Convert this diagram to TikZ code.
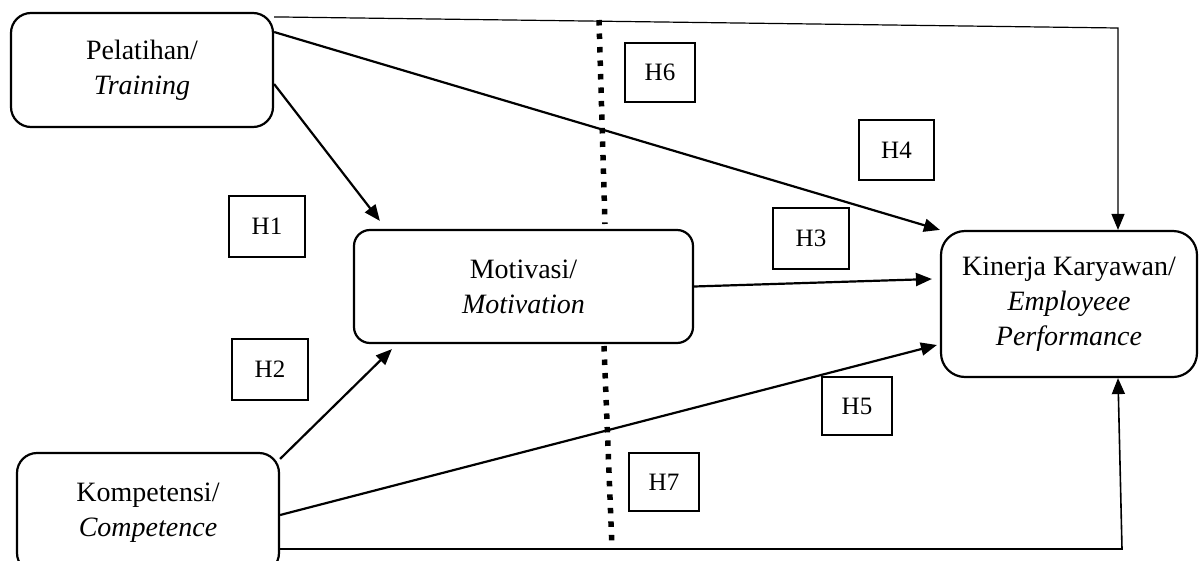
\documentclass[tikz,border=0pt]{standalone}
\usepackage{fontspec}
\setmainfont{Liberation Serif}
\usetikzlibrary{arrows.meta,calc}
\begin{document}
\begin{tikzpicture}[x=1pt,y=-1pt,
  var/.style={draw, line width=2.2pt, rounded corners=20pt, align=center, inner sep=0pt,
    font=\fontsize{28}{35}\selectfont},
  hyp/.style={draw, line width=2pt, inner sep=0pt, font=\fontsize{25}{30}\selectfont},
  link/.style={line width=2.2pt, -{Triangle[length=16pt,width=13pt]}},
  sepline/.style={line width=5.5pt, dash pattern=on 5.5pt off 8pt}]
\useasboundingbox (0,0) rectangle (1200,560);

% variable boxes
\node[var, minimum width=262pt, minimum height=114pt] (pel) at (142,70) {Pelatihan/\\\textit{Training}};
\node[var, minimum width=339pt, minimum height=113pt, rounded corners=16pt] (mot) at (523.5,286.5) {Motivasi/\\\textit{Motivation}};
\node[var, minimum width=256pt, minimum height=146pt, rounded corners=24pt] (kin) at (1069,304) {Kinerja Karyawan/\\\textit{Employeee}\\\textit{Performance}};
\node[var, minimum width=262pt, minimum height=120pt] (kom) at (148,513) {Kompetensi/\\\textit{Competence}};

% hypothesis labels
\node[hyp, minimum width=76pt, minimum height=61pt] (h1) at (267,226) {H1};
\node[hyp, minimum width=76pt, minimum height=61pt] (h2) at (270,369.5) {H2};
\node[hyp, minimum width=76pt, minimum height=61pt] (h3) at (811,238.5) {H3};
\node[hyp, minimum width=75pt, minimum height=60pt] (h4) at (896.5,150) {H4};
\node[hyp, minimum width=70pt, minimum height=58pt] (h5) at (857,406) {H5};
\node[hyp, minimum width=70pt, minimum height=59pt] (h6) at (660,72.5) {H6};
\node[hyp, minimum width=70pt, minimum height=58pt] (h7) at (664,482) {H7};

% dotted separator
\draw[sepline] (599,20) -- (605,224);
\draw[sepline] (604,346) -- (612,548);

% connectors
\coordinate (tr) at (1118,28);
\draw[line width=1.2pt, -{Triangle[length=16pt,width=13pt]}]
  ([yshift=-5pt]pel.north east) -- (tr) -- (tr |- kin.north);
\draw[link] ([yshift=38pt]pel.east) -- (kin.north west);
\draw[link] ([yshift=-14pt]pel.east) -- ([xshift=27pt,yshift=8pt]mot.north west);
\draw[link] (mot.east) -- ([xshift=-8pt,yshift=25pt]kin.west);
\draw[link] ([yshift=-7pt]kom.north east) -- ([xshift=39pt,yshift=-5pt]mot.south west);
\draw[link] ([yshift=-2pt]kom.east) -- ([xshift=-3pt,yshift=-41pt]kin.west);
\coordinate (br) at (1122,549);
\draw[line width=1.6pt, -{Triangle[length=16pt,width=13pt]}]
  ([yshift=-36pt]kom.east) -- (br) -- ([xshift=49pt]kin.south);
\end{tikzpicture}
\end{document}
